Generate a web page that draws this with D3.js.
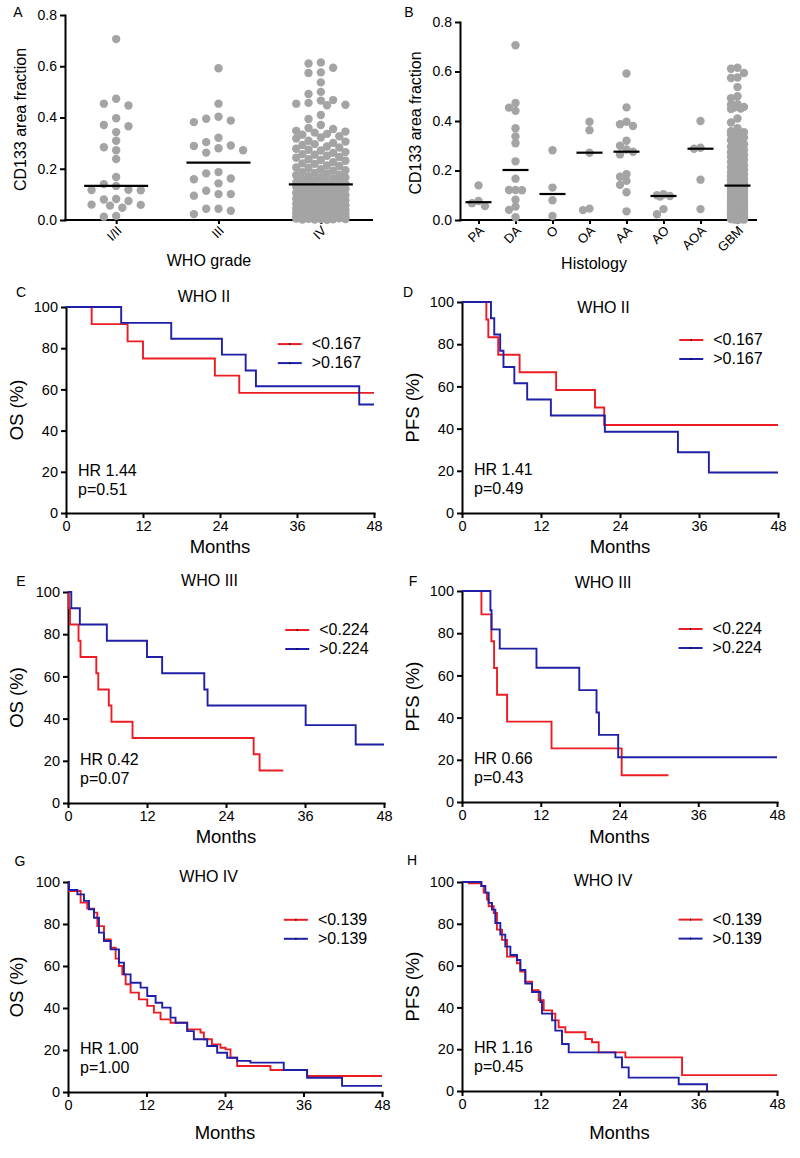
<!DOCTYPE html>
<html><head><meta charset="utf-8">
<script src="https://cdn.jsdelivr.net/npm/d3@7"></script>
<style>
body{margin:0;background:#fff}
svg{display:block}
text{font-family:Arial,"Liberation Sans",sans-serif;fill:#000}
</style>
</head><body>
<svg id="c" width="800" height="1158"></svg>
<script>
// ---------------- DATA ----------------
const gradeCats = ["I/II", "III", "IV"];
const gradeI_II = [0.706,0.473,0.454,0.447,0.397,0.371,0.366,0.343,0.309,0.284,0.272,0.238,0.168,0.140,0.133,0.118,0.117,0.116,0.082,0.080,0.074,0.060,0.059,0.056,0.048,0.016,0.013];
const gradeIII = [0.592,0.454,0.403,0.395,0.388,0.382,0.321,0.304,0.291,0.289,0.280,0.272,0.263,0.187,0.182,0.162,0.159,0.143,0.114,0.101,0.101,0.095,0.044,0.044,0.036,0.023];
const gradeIV = [
0.615,0.611,0.594,0.576,0.574,0.537,0.500,0.492,0.468,0.466,0.457,0.454,0.450,0.448,0.410,0.394,0.371,0.359,0.355,
0.348,0.345,0.341,0.336,0.333,0.327,0.322,0.318,0.309,0.306,0.301,0.296,0.293,0.287,0.283,0.278,0.274,0.271,0.265,0.262,0.257,0.255,0.251,
0.246,0.243,0.237,0.234,0.231,0.226,0.221,0.219,0.213,0.211,0.205,0.203,0.198,0.194,0.192,0.187,0.184,0.181,0.177,0.175,0.171,0.167,0.166,0.161,0.157,0.154,0.151,0.149,0.146,0.144,0.142,0.141,0.140,
0.139,0.136,0.134,0.131,0.129,0.126,0.124,0.121,0.119,0.116,0.113,0.111,0.108,0.106,0.103,0.101,0.098,0.096,0.094,0.091,
0.089,0.086,0.084,0.081,0.079,0.077,0.075,0.072,0.070,0.068,0.066,0.064,0.061,0.059,0.057,0.055,0.053,0.051,0.049,0.047,
0.045,0.043,0.041,0.039,0.037,0.035,0.034,0.032,0.030,0.028,0.027,0.025,0.024,0.022,0.021,0.019,0.018,0.017,0.015,0.014,
0.013,0.012,0.011,0.010,0.009,0.008,0.007,0.006,0.005,0.004,0.004,0.003,0.002,0.002,0.001];
const gradeMedians = [0.133, 0.224, 0.139];

const histCats = ["PA","DA","O","OA","AA","AO","AOA","GBM"];
const histPA = [0.140,0.077,0.068,0.056];
const histDA = [0.706,0.473,0.454,0.441,0.371,0.338,0.310,0.237,0.167,0.121,0.121,0.120,0.082,0.054,0.041,0.011];
const histO = [0.282,0.131,0.080,0.016];
const histOA = [0.397,0.363,0.272,0.046,0.040];
const histAA = [0.592,0.455,0.397,0.387,0.380,0.320,0.300,0.285,0.276,0.265,0.185,0.175,0.158,0.142,0.112,0.035];
const histAO = [0.104,0.100,0.097,0.095,0.044,0.023];
const histAOA = [0.400,0.292,0.288,0.163,0.044];
const histGBM = gradeIV;
const histMedians = [0.072,0.202,0.105,0.272,0.276,0.097,0.288,0.139];

const scatterTicks = [0, 0.2, 0.4, 0.6, 0.8];
const kmXTicks = [0, 12, 24, 36, 48];
const kmYTicks = [0, 20, 40, 60, 80, 100];

// WHO II OS
const osII_lowT  = [0,4.0,9.6,12.0,23.2,27.0,48];
const osII_lowS  = [100,91.7,83.3,75.0,66.7,58.3,58.3];
const osII_highT = [0,8.6,16.4,24.3,28.0,29.6,45.7,48];
const osII_highS = [100,92.3,84.6,76.9,69.2,61.5,52.7,52.7];
// WHO II PFS
const pfsII_lowT  = [0,3.7,4.0,5.5,8.75,14.3,20.2,21.6,48];
const pfsII_lowS  = [100,91.7,83.3,75.0,66.7,58.3,50.0,41.7,41.7];
const pfsII_highT = [0,4.4,4.9,5.8,6.3,7.95,9.9,13.5,21.7,32.8,37.5,48];
const pfsII_highS = [100,92.3,84.6,76.9,69.2,61.5,53.8,46.2,38.5,28.8,19.2,19.2];
// WHO III OS
const osIII_lowT  = [0,0.1,0.3,1.6,1.9,4.3,4.6,6.2,6.6,9.8,28.2,29.1,32.7];
const osIII_lowS  = [100,92.3,84.6,76.9,69.2,61.5,53.8,46.2,38.5,30.8,23.1,15.4,15.4];
const osIII_highT = [0,0.5,1.8,5.9,12.0,14.3,20.7,21.2,36.1,43.7,48];
const osIII_highS = [100,92.3,84.6,76.9,69.2,61.5,53.8,46.2,36.9,27.7,27.7];
// WHO III PFS
const pfsIII_lowT  = [0,2.96,4.48,4.89,5.34,6.87,13.64,24.33,31.46];
const pfsIII_lowS  = [100,88.9,76.2,63.5,50.8,38.1,25.4,12.7,12.7];
const pfsIII_highT = [0,4.33,4.5,5.75,11.35,17.87,20.5,20.87,23.8,48];
const pfsIII_highS = [100,90.9,81.8,72.7,63.6,53.0,42.4,31.8,21.2,21.2];
// WHO IV OS
const osIV_lowT  = [0,0.15,1.93,2.95,3.97,4.48,5.50,6.52,7.28,7.79,8.30,8.81,9.57,10.84,12.11,13.13,14.15,15.68,18.22,20.26,20.77,22.0,23.31,24.08,24.84,25.86,30.95,36.55,48];
const osIV_lowS  = [100,95.7,90.2,87.3,85.4,79.0,72.7,68.7,63.5,60.0,56.0,51.3,47.3,44.1,41.0,37.8,34.6,33.0,29.8,28.3,25.1,22.7,21.1,20.3,16.3,12.4,10.5,7.6,7.6];
const osIV_highT = [0,0.15,1.43,2.44,3.21,3.97,4.73,5.50,6.52,7.79,8.55,9.57,11.1,12.11,13.39,14.4,15.68,16.44,18.22,19.24,21.28,22.8,24.33,25.86,27.89,32.98,36.55,41.89,48];
const osIV_highS = [100,96.2,94.1,91.0,87.0,83.0,75.9,71.9,67.9,61.6,56.0,52.0,49.7,45.7,42.5,40.2,35.4,33.0,29.0,25.1,21.9,18.7,16.3,14.8,14.0,10.5,6.8,2.9,2.9];
// WHO IV PFS
const pfsIV_lowT  = [0,1.02,2.95,3.3,3.81,4.06,4.83,5.33,6.1,6.86,8.38,8.89,9.65,10.67,11.68,12.45,13.72,14.22,14.73,15.75,18.8,19.81,20.83,24.89,33.53,48];
const pfsIV_lowS  = [100,99.4,98.1,94.9,91.6,88.4,85.2,77.2,72.3,64.3,61.1,57.1,52.3,48.2,43.4,38.6,37.0,33.8,30.5,28.1,24.9,23.3,18.5,16.1,7.6,7.6];
const pfsIV_highT = [0,2.95,3.56,4.06,4.57,5.08,5.84,6.6,7.37,8.38,8.89,9.65,10.67,11.94,12.19,13.72,14.22,15.24,16.26,23.37,24.38,25.4,33.02,37.34];
const pfsIV_highS = [100,98.1,94.9,90.0,86.8,80.4,74.8,69.1,65.1,62.7,57.9,51.4,47.4,42.6,37.0,33.8,28.9,22.5,18.5,16.1,11.3,6.4,3.2,0];

// ---------------- DRAWING ----------------
const svg = d3.select("#c");
const FONT = 'Arial, "Liberation Sans", sans-serif';
const DOT = "#a4a4a4";
const RED = "#ec1c24";
const BLUE = "#1f1fa8";

function styleAxis(a, fs) {
  a.select(".domain").attr("stroke", "#000").attr("stroke-width", 2).attr("stroke-linecap", "square");
  a.selectAll(".tick line").attr("stroke", "#000").attr("stroke-width", 2);
  a.selectAll("text").attr("font-size", fs).attr("font-family", FONT).attr("fill", "#000");
}

function txt(x, y, s, fs, anchor, rot) {
  const t = svg.append("text").attr("x", x).attr("y", y).attr("font-size", fs)
    .attr("text-anchor", anchor || "middle").attr("dominant-baseline", "middle").text(s);
  if (rot) t.attr("transform", `rotate(${rot},${x},${y})`);
  return t;
}

function scatterPanel(cfg) {
  const g = svg.append("g");
  const y = d3.scaleLinear().domain([0, 0.8]).range([cfg.yb, cfg.yt]);
  const x = d3.scalePoint().domain(cfg.cats).range([cfg.x0, cfg.x1]).padding(0.5);

  const ay = g.append("g").attr("transform", `translate(${cfg.x0},0)`)
    .call(d3.axisLeft(y).tickValues(scatterTicks).tickFormat(d3.format(".1f")).tickSize(5).tickSizeOuter(0).tickPadding(3));
  styleAxis(ay, 14);
  const ax = g.append("g").attr("transform", `translate(0,${cfg.yb})`)
    .call(d3.axisBottom(x).tickSize(4).tickSizeOuter(0).tickFormat(""));
  ax.select(".domain").attr("d", `M${cfg.x0},0H${cfg.x1}`);
  styleAxis(ax, 13);

  cfg.groups.forEach((vals, i) => {
    const cx = x(cfg.cats[i]);
    const placed = [];
    vals.slice().sort((a, b) => b - a).forEach(v => {
      const py = y(v);
      let best = cx, bestD = -1;
      for (const m of cfg.cands) {
        const px = cx + m * cfg.spacing;
        let md = Infinity;
        for (const p of placed) {
          const d = Math.hypot(p[0] - px, p[1] - py);
          if (d < md) md = d;
        }
        if (md >= cfg.minDist) { best = px; bestD = md; break; }
        if (md > bestD) { bestD = md; best = px; }
      }
      placed.push([best, py]);
    });
    g.append("g").selectAll("circle").data(placed).enter().append("circle")
      .attr("cx", d => d[0]).attr("cy", d => d[1]).attr("r", cfg.r).attr("fill", DOT);
    g.append("line").attr("x1", cx - cfg.medHalf).attr("x2", cx + cfg.medHalf)
      .attr("y1", y(cfg.medians[i])).attr("y2", y(cfg.medians[i]))
      .attr("stroke", "#000").attr("stroke-width", 2.2);
    txt(cx + 4, cfg.yb + 9, cfg.cats[i], 13, "end", -45).attr("dominant-baseline", "middle");
  });

  txt(cfg.ylabX, (cfg.yt + cfg.yb) / 2 + 2, "CD133 area fraction", 16, "middle", -90);
  txt(cfg.xlabX, cfg.xlabY, cfg.xlab, 16);
  txt(cfg.letterX, cfg.letterY, cfg.letter, 14);
}

function kmPanel(cfg) {
  const g = svg.append("g");
  const x = d3.scaleLinear().domain([0, 48]).range([cfg.x0, cfg.x1]);
  const y = d3.scaleLinear().domain([0, 100]).range([cfg.yb, cfg.yt]);
  const ax = g.append("g").attr("transform", `translate(0,${cfg.yb})`)
    .call(d3.axisBottom(x).tickValues(kmXTicks).tickSize(5).tickSizeOuter(0).tickPadding(3));
  styleAxis(ax, 14.5);
  const ay = g.append("g").attr("transform", `translate(${cfg.x0},0)`)
    .call(d3.axisLeft(y).tickValues(kmYTicks).tickSize(5).tickSizeOuter(0).tickPadding(3));
  styleAxis(ay, 14.5);

  const line = d3.line().x(d => x(d[0])).y(d => y(d[1])).curve(d3.curveStepAfter);
  cfg.series.forEach(s => {
    g.append("path").attr("d", line(d3.zip(s.t, s.s))).attr("fill", "none")
      .attr("stroke", s.color).attr("stroke-width", 1.9);
  });

  // legend
  cfg.series.forEach((s, i) => {
    const ly = y(82) + i * 19;
    const lx = x(33);
    g.append("line").attr("x1", lx).attr("x2", lx + 24).attr("y1", ly).attr("y2", ly)
      .attr("stroke", s.color).attr("stroke-width", 2);
    g.append("line").attr("x1", lx + 12).attr("x2", lx + 12).attr("y1", ly - 1).attr("y2", ly + 1)
      .attr("stroke", "#000").attr("stroke-width", 1);
    txt(lx + 34, ly + 1, s.label, 16, "start");
  });

  txt(x(21.5), cfg.titleY, cfg.title, 16);
  txt(cfg.x0 + 12, y(20), cfg.hr, 16, "start");
  txt(cfg.x0 + 12, y(20) + 19, cfg.p, 16, "start");
  txt(cfg.ylabX, (cfg.yt + cfg.yb) / 2, cfg.ylab, 18.5, "middle", -90);
  txt((cfg.x0 + cfg.x1) / 2, cfg.monthsY, "Months", 18.5);
  txt(cfg.letterX, cfg.letterY, cfg.letter, 14);
}

scatterPanel({
  cats: gradeCats, groups: [gradeI_II, gradeIII, gradeIV], medians: gradeMedians,
  x0: 65, x1: 372, yt: 15, yb: 220, r: 4.2, spacing: 12.3, minDist: 8.4,
  cands: [0, -1, 1, -2, 2, -0.5, 0.5, -1.5, 1.5], medHalf: 32,
  ylabX: 22, xlab: "WHO grade", xlabX: 209, xlabY: 262, letter: "A", letterX: 18, letterY: 13
});
scatterPanel({
  cats: histCats, groups: [histPA, histDA, histO, histOA, histAA, histAO, histAOA, histGBM], medians: histMedians,
  x0: 460, x1: 756, yt: 22, yb: 220, r: 4.2, spacing: 6.5, minDist: 6,
  cands: [0, -1, 1, -0.5, 0.5], medHalf: 13,
  ylabX: 417, xlab: "Histology", xlabX: 594, xlabY: 265, letter: "B", letterX: 409, letterY: 13
});

kmPanel({ x0: 66, x1: 374, yt: 307, yb: 513, title: "WHO II", titleY: 298, hr: "HR 1.44", p: "p=0.51",
  ylab: "OS (%)", ylabX: 18, monthsY: 548, letter: "C", letterX: 21, letterY: 293,
  series: [{ t: osII_lowT, s: osII_lowS, color: RED, label: "<0.167" }, { t: osII_highT, s: osII_highS, color: BLUE, label: ">0.167" }] });
kmPanel({ x0: 462, x1: 778, yt: 302, yb: 513, title: "WHO II", titleY: 309, hr: "HR 1.41", p: "p=0.49",
  ylab: "PFS (%)", ylabX: 414, monthsY: 548, letter: "D", letterX: 408, letterY: 293,
  series: [{ t: pfsII_lowT, s: pfsII_lowS, color: RED, label: "<0.167" }, { t: pfsII_highT, s: pfsII_highS, color: BLUE, label: ">0.167" }] });
kmPanel({ x0: 68, x1: 384, yt: 592, yb: 803, title: "WHO III", titleY: 582, hr: "HR 0.42", p: "p=0.07",
  ylab: "OS (%)", ylabX: 18, monthsY: 838, letter: "E", letterX: 21, letterY: 582,
  series: [{ t: osIII_lowT, s: osIII_lowS, color: RED, label: "<0.224" }, { t: osIII_highT, s: osIII_highS, color: BLUE, label: ">0.224" }] });
kmPanel({ x0: 462, x1: 777, yt: 591, yb: 802, title: "WHO III", titleY: 584, hr: "HR 0.66", p: "p=0.43",
  ylab: "PFS (%)", ylabX: 414, monthsY: 838, letter: "F", letterX: 413, letterY: 582,
  series: [{ t: pfsIII_lowT, s: pfsIII_lowS, color: RED, label: "<0.224" }, { t: pfsIII_highT, s: pfsIII_highS, color: BLUE, label: ">0.224" }] });
kmPanel({ x0: 68, x1: 382, yt: 882, yb: 1092, title: "WHO IV", titleY: 878, hr: "HR 1.00", p: "p=1.00",
  ylab: "OS (%)", ylabX: 18, monthsY: 1134, letter: "G", letterX: 20, letterY: 862,
  series: [{ t: osIV_lowT, s: osIV_lowS, color: RED, label: "<0.139" }, { t: osIV_highT, s: osIV_highS, color: BLUE, label: ">0.139" }] });
kmPanel({ x0: 462, x1: 777, yt: 882, yb: 1091, title: "WHO IV", titleY: 882, hr: "HR 1.16", p: "p=0.45",
  ylab: "PFS (%)", ylabX: 414, monthsY: 1134, letter: "H", letterX: 412, letterY: 861,
  series: [{ t: pfsIV_lowT, s: pfsIV_lowS, color: RED, label: "<0.139" }, { t: pfsIV_highT, s: pfsIV_highS, color: BLUE, label: ">0.139" }] });
</script>
</body></html>
